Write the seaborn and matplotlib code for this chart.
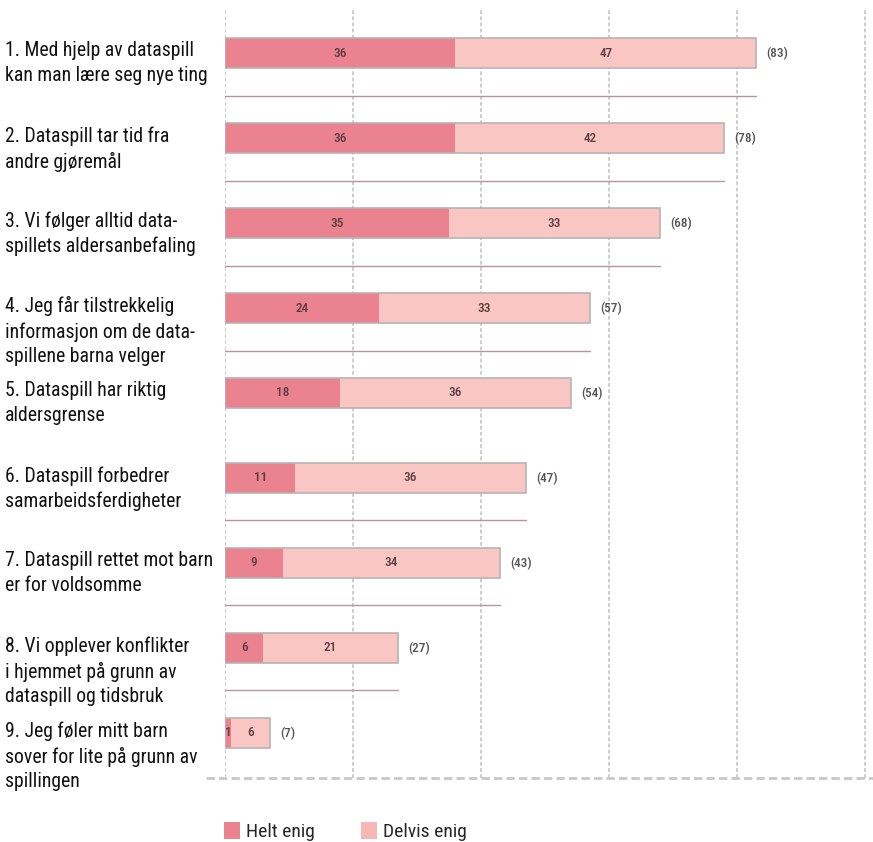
import matplotlib
matplotlib.use("Agg")
import matplotlib.pyplot as plt
import matplotlib.transforms as mtransforms
from matplotlib.patches import Patch
import pandas as pd
import seaborn as sns

# Data
statements = [
    "1. Med hjelp av dataspill\nkan man lære seg nye ting",
    "2. Dataspill tar tid fra\nandre gjøremål",
    "3. Vi følger alltid data-\nspillets aldersanbefaling",
    "4. Jeg får tilstrekkelig\ninformasjon om de data-\nspillene barna velger",
    "5. Dataspill har riktig\naldersgrense",
    "6. Dataspill forbedrer\nsamarbeidsferdigheter",
    "7. Dataspill rettet mot barn\ner for voldsomme",
    "8. Vi opplever konflikter\ni hjemmet på grunn av\ndataspill og tidsbruk",
    "9. Jeg føler mitt barn\nsover for lite på grunn av\nspillingen",
]
helt_enig = [36, 36, 35, 24, 18, 11, 9, 6, 1]
delvis_enig = [47, 42, 33, 33, 36, 36, 34, 21, 6]
legend_labels = ["Helt enig", "Delvis enig"]

df = pd.DataFrame({
    "statement": statements,
    "helt": helt_enig,
    "delvis": delvis_enig,
})
df["total"] = df["helt"] + df["delvis"]

DARK = "#ea8290"
LIGHT = "#f9c6c3"
EDGE = "#b9b3b3"
VALUE_COLOR = "#5a3d3d"

sns.set_style("white")
plt.rcParams["font.family"] = ["Roboto Condensed", "Lato", "DejaVu Sans"]

fig = plt.figure(figsize=(8.73, 8.42), dpi=100)
ax = fig.add_axes([225 / 873, 64 / 842, 648 / 873, 770 / 842])

# light segment = total, dark segment drawn over it
sns.barplot(data=df, x="total", y="statement", color=LIGHT, width=0.35,
            saturation=1, linewidth=0, orient="h", ax=ax, zorder=3)
sns.barplot(data=df, x="helt", y="statement", color=DARK, width=0.35,
            saturation=1, linewidth=0, orient="h", ax=ax, zorder=4)
sns.barplot(data=df, x="total", y="statement", fill=False, width=0.35,
            edgecolor=EDGE, linewidth=1.2, orient="h", ax=ax, zorder=5)

ax.set_xlim(0, 101.25)
ax.set_ylim(8.53, -0.53)
ax.set_xticks([0, 20, 40, 60, 80, 100])
ax.set_yticks([])
ax.set_xlabel("")
ax.set_ylabel("")
ax.xaxis.grid(True, color="#c0c0c0", linestyle=(0, (2.5, 1.5)), linewidth=1.1, zorder=0)
ax.tick_params(axis="x", length=9, width=1.1, color="#cccccc", labelbottom=False)
for s in ax.spines.values():
    s.set_visible(False)

# dashed baseline
ax.axhline(8.53, xmin=-0.03, xmax=1.0, color="#c8c8c8", linestyle=(0, (3, 1.5)),
           linewidth=2, clip_on=False, zorder=1)

# thin rules between rows
for i, row in df.iterrows():
    if i in (4, 8):
        continue
    ax.plot([0, row["total"]], [i + 0.5, i + 0.5], color="#b89398",
            linewidth=1, zorder=2)

# values
for i, row in df.iterrows():
    ax.text(row["helt"] / 2, i, str(row["helt"]), ha="center", va="center",
            fontsize=9.5, fontweight="medium", color=VALUE_COLOR, zorder=6)
    ax.text(row["helt"] + row["delvis"] / 2, i, str(row["delvis"]), ha="center",
            va="center", fontsize=9.5, fontweight="medium", color=VALUE_COLOR, zorder=6)
    ax.text(row["total"] + 1.6, i, f"({row['total']})", ha="left", va="center",
            fontsize=9.5, fontweight="medium", color="#555555", zorder=6)

# row labels at left edge of figure
trans = mtransforms.blended_transform_factory(fig.transFigure, ax.transData)
for i, label in enumerate(statements):
    ax.text(5 / 873, i - 0.14, label, transform=trans, ha="left", va="top",
            fontsize=14.2, color="#111111", linespacing=1.38, clip_on=False)

handles = [Patch(facecolor=DARK, edgecolor="none"),
           Patch(facecolor="#f7b8b5", edgecolor="none")]
fig.legend(handles, legend_labels, loc="upper left", bbox_to_anchor=(0.257, 0.024),
           ncol=2, frameon=False, fontsize=14, handlelength=0.8, handleheight=1.0,
           handletextpad=0.3, columnspacing=2.4, borderpad=0, borderaxespad=0)

fig.savefig("out.png", dpi=100)
